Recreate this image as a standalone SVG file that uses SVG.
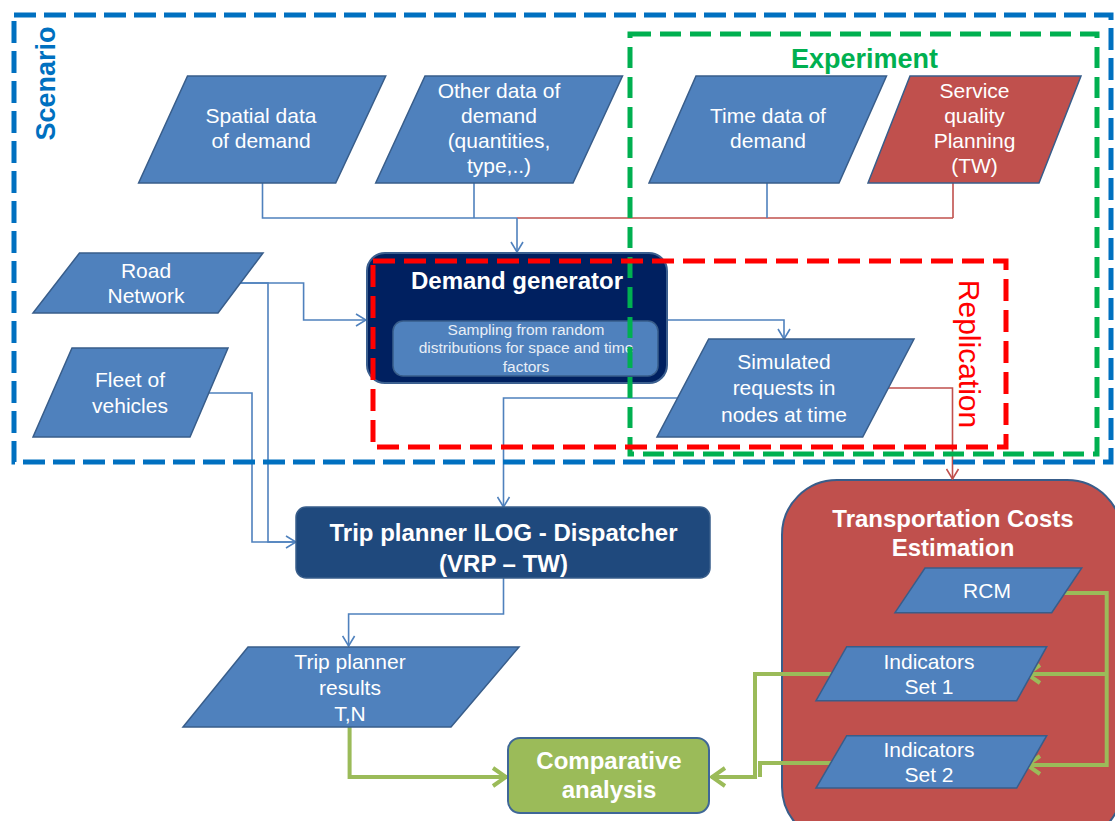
<svg xmlns="http://www.w3.org/2000/svg" width="1115" height="821" viewBox="0 0 1115 821">
<style>
.pg{fill:#4F81BD;stroke:#385D8A;stroke-width:1.5}
.pgr{fill:#C0504D;stroke:#385D8A;stroke-width:1.5}
.t{font-family:"Liberation Sans",Arial,sans-serif;fill:#fff;text-anchor:middle}
.l{font-size:21px}
.b{font-size:24px;font-weight:bold}
.s{font-size:15.5px;fill:#E8EEF6}
.cb{fill:none;stroke:#4F81BD;stroke-width:1.6}
.cr{fill:none;stroke:#C0504D;stroke-width:1.6}
.cg{fill:none;stroke:#9BBB59;stroke-width:4}
.fr{fill:none;stroke-width:5}
</style>
<defs>
<marker id="ab" markerUnits="userSpaceOnUse" viewBox="0 0 12 14" refX="11" refY="7" markerWidth="12" markerHeight="14" orient="auto">
<path d="M1,1 L11,7 L1,13" fill="none" stroke="#4F81BD" stroke-width="1.6"/>
</marker>
<marker id="ar" markerUnits="userSpaceOnUse" viewBox="0 0 12 14" refX="11" refY="7" markerWidth="12" markerHeight="14" orient="auto">
<path d="M1,1 L11,7 L1,13" fill="none" stroke="#C0504D" stroke-width="1.6"/>
</marker>
<marker id="ag" markerUnits="userSpaceOnUse" viewBox="0 0 18 22" refX="16" refY="11" markerWidth="18" markerHeight="22" orient="auto">
<path d="M2,2 L15,11 L2,20" fill="none" stroke="#9BBB59" stroke-width="4"/>
</marker>
</defs>
<rect width="1115" height="821" fill="#fff"/>

<g id="transport">
<rect x="782" y="480" width="340" height="362" rx="55" fill="#C0504D" stroke="#385D8A" stroke-width="2"/>
<text class="t b" x="953" y="527">Transportation Costs</text>
<text class="t b" x="953" y="556">Estimation</text>
</g>

<g id="connectors">
<path class="cb" d="M262.5,183 V218 H517"/>
<path class="cb" d="M474,183 V218"/>
<path class="cr" d="M517,218 H953"/>
<path class="cb" d="M767,183 V218"/>
<path class="cr" d="M953,183 V218"/>
<path class="cb" d="M517,218 V252" marker-end="url(#ab)"/>
<path class="cb" d="M240,283 H303.6 V320 H366" marker-end="url(#ab)"/>
<path class="cb" d="M240,283 H268 V542 H296" marker-end="url(#ab)"/>
<path class="cb" d="M208,393 H252 V542 H296"/>
<path class="cb" d="M667,320 H784 V339" marker-end="url(#ab)"/>
<path class="cb" d="M677,398 H503.5 V507" marker-end="url(#ab)"/>
<path class="cr" d="M887,388 H952.5 V479" marker-end="url(#ar)"/>
<path class="cb" d="M503.5,578 V614 H348.6 V646" marker-end="url(#ab)"/>
<path class="cg" d="M349.6,727 V777 H507" marker-end="url(#ag)"/>
<path class="cg" d="M1064,593 H1106.7 V765 H1026" marker-end="url(#ag)"/>
<path class="cg" d="M1106.7,674 H1026" marker-end="url(#ag)"/>
<path class="cg" d="M831,674 H755 V777 H711" marker-end="url(#ag)"/>
<path class="cg" d="M831,763 H760 V777"/>
</g>

<g id="spatial">
<polygon class="pg" points="187.5,76 385.7,76 335.7,183 138.6,183"/>
<text class="t l" x="261" y="123">Spatial data</text>
<text class="t l" x="261" y="148">of demand</text>
</g>
<g id="other">
<polygon class="pg" points="425,76 622.5,76 573,183 375.7,183"/>
<text class="t l" x="499" y="98">Other data of</text>
<text class="t l" x="499" y="123">demand</text>
<text class="t l" x="499" y="148">(quantities,</text>
<text class="t l" x="499" y="173">type,..)</text>
</g>
<g id="time">
<polygon class="pg" points="696,76 886.5,76 839,183 649,183"/>
<text class="t l" x="768" y="123">Time data of</text>
<text class="t l" x="768" y="148">demand</text>
</g>
<g id="service">
<polygon class="pgr" points="910,76 1081,76 1039,183 868,183"/>
<text class="t l" x="974.5" y="98">Service</text>
<text class="t l" x="974.5" y="123">quality</text>
<text class="t l" x="974.5" y="148">Planning</text>
<text class="t l" x="974.5" y="173">(TW)</text>
</g>
<g id="road">
<polygon class="pg" points="79.5,253 263,253 218,313 33,313"/>
<text class="t l" x="146" y="278">Road</text>
<text class="t l" x="146" y="303">Network</text>
</g>
<g id="fleet">
<polygon class="pg" points="72,348 228,348 190,437 33,437"/>
<text class="t l" x="130" y="387">Fleet of</text>
<text class="t l" x="130" y="413">vehicles</text>
</g>
<g id="demand-generator">
<rect x="367" y="253" width="300" height="130" rx="18" fill="#002060" stroke="#3B5F8F" stroke-width="2"/>
<text class="t b" x="517" y="289">Demand generator</text>
<rect x="393" y="321" width="265" height="55" rx="10" fill="#4F81BD" stroke="#385D8A" stroke-width="1.5"/>
<text class="t s" x="526" y="335">Sampling from random</text>
<text class="t s" x="526" y="353">distributions for space and time</text>
<text class="t s" x="526" y="372">factors</text>
</g>
<g id="simulated">
<polygon class="pg" points="708.7,339 914,339 862.7,437 657,437"/>
<text class="t l" x="784" y="369">Simulated</text>
<text class="t l" x="784" y="395">requests in</text>
<text class="t l" x="784" y="422">nodes at time</text>
</g>
<g id="trip-planner">
<rect x="296" y="507" width="414" height="71" rx="10" fill="#1F497D" stroke="#385D8A" stroke-width="1.5"/>
<text class="t b" x="503.5" y="541">Trip planner ILOG - Dispatcher</text>
<text class="t b" x="503.5" y="572">(VRP – TW)</text>
</g>
<g id="results">
<polygon class="pg" points="248,647 519,647 451,727 183,727"/>
<text class="t l" x="350" y="669">Trip planner</text>
<text class="t l" x="350" y="695">results</text>
<text class="t l" x="350" y="721">T,N</text>
</g>
<g id="comparative">
<rect x="508" y="738" width="201" height="75" rx="12" fill="#9BBB59" stroke="#3F6797" stroke-width="2"/>
<text class="t b" x="609" y="769">Comparative</text>
<text class="t b" x="609" y="798">analysis</text>
</g>
<g id="rcm">
<polygon class="pg" points="925,568 1081.7,568 1051.7,612.7 895,612.7"/>
<text class="t l" x="987" y="598">RCM</text>
</g>
<g id="indicators1">
<polygon class="pg" points="846.7,646.7 1046.7,646.7 1016.7,700.7 816,700.7"/>
<text class="t l" x="929" y="669">Indicators</text>
<text class="t l" x="929" y="694">Set 1</text>
</g>
<g id="indicators2">
<polygon class="pg" points="846.7,735.7 1046.7,735.7 1016.7,788 816,788"/>
<text class="t l" x="929" y="757">Indicators</text>
<text class="t l" x="929" y="782">Set 2</text>
</g>

<g id="scenario">
<rect class="fr" x="14" y="15" width="1097" height="447" stroke="#0070C0" stroke-dasharray="22 8"/>
<text x="0" y="0" transform="translate(55,83.5) rotate(-90)" font-family="Liberation Sans,Arial,sans-serif" font-size="27" font-weight="bold" fill="#0070C0" text-anchor="middle">Scenario</text>
</g>
<g id="experiment">
<rect class="fr" x="630" y="34" width="467" height="420" stroke="#00B050" stroke-dasharray="21 9"/>
<text x="864.5" y="68" font-family="Liberation Sans,Arial,sans-serif" font-size="27" font-weight="bold" fill="#00B050" text-anchor="middle">Experiment</text>
</g>
<g id="replication">
<rect class="fr" x="373" y="261" width="633" height="186" stroke="#FF0000" stroke-dasharray="22 9"/>
<text x="0" y="0" transform="translate(959,354) rotate(90)" font-family="Liberation Sans,Arial,sans-serif" font-size="30" fill="#FF0000" text-anchor="middle">Replication</text>
</g>
</svg>
